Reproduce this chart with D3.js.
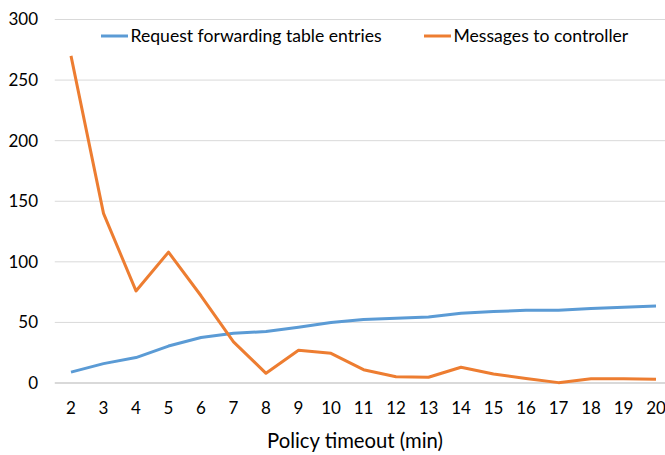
<!DOCTYPE html>
<html><head><meta charset="utf-8">
<script src="https://cdn.jsdelivr.net/npm/d3@7"></script>
<style>body{margin:0;background:#fff}svg{display:block}text{font-family:Lato,"Open Sans",sans-serif;fill:#000}</style>
</head><body>
<script>
const categories = [2,3,4,5,6,7,8,9,10,11,12,13,14,15,16,17,18,19,20];
const forwardingEntries = [9,16,21,30.5,37.5,41,42.5,46,50,52.5,53.5,54.5,57.5,59,60,60,61.5,62.5,63.5];
const controllerMessages = [270,140,76,108,72,34,8,27,24.5,11,5.2,4.7,13,7.5,3.8,0.3,3.6,3.5,3];
const yTicks = [0,50,100,150,200,250,300];
const seriesNames = ["Request forwarding table entries","Messages to controller"];
const colors = ["#5b9bd5","#ed7d31"];

const W=665,H=455;
const svg=d3.select("body").append("svg").attr("width",W).attr("height",H);
const x=d3.scaleBand().domain(categories).range([54.75,672.25]);
const y=d3.scaleLinear().domain([0,300]).range([383,19.5]);

svg.append("g").selectAll("line").data(yTicks.filter(d=>d>0)).join("line")
 .attr("x1",54.75).attr("x2",W).attr("y1",d=>y(d)).attr("y2",d=>y(d))
 .attr("stroke","#d9d9d9").attr("stroke-width",1);
svg.append("line").attr("x1",54.75).attr("x2",W).attr("y1",y(0)).attr("y2",y(0))
 .attr("stroke","#d9d9d9").attr("stroke-width",2);

const ya=svg.append("g").attr("transform","translate(38,0)")
 .call(d3.axisLeft(y).tickValues(yTicks).tickSize(0).tickPadding(0));
ya.select(".domain").remove();
ya.selectAll("text").attr("font-size",17).attr("font-family","Lato,'Open Sans',sans-serif").attr("fill","#000");

const xa=svg.append("g").attr("transform","translate(0,402)")
 .call(d3.axisBottom(x).tickSize(0).tickPadding(0));
xa.select(".domain").remove();
xa.selectAll("text").attr("font-size",17).attr("font-family","Lato,'Open Sans',sans-serif").attr("fill","#000");

const line=d3.line().x((d,i)=>x(categories[i])+x.bandwidth()/2).y(d=>y(d));
[forwardingEntries,controllerMessages].forEach((s,k)=>{
 svg.append("path").attr("d",line(s)).attr("fill","none").attr("stroke",colors[k])
  .attr("stroke-width",3).attr("stroke-linejoin","round");
});

const lx=[101,424];
seriesNames.forEach((n,k)=>{
 svg.append("line").attr("x1",lx[k]).attr("x2",lx[k]+27).attr("y1",36).attr("y2",36)
  .attr("stroke",colors[k]).attr("stroke-width",3);
 svg.append("text").attr("x",lx[k]+29.5).attr("y",42).attr("font-size",17.6).text(n);
});

svg.append("text").attr("x",355).attr("y",448).attr("text-anchor","middle")
 .attr("font-size",20.3).text("Policy timeout (min)");
</script>
</body></html>
